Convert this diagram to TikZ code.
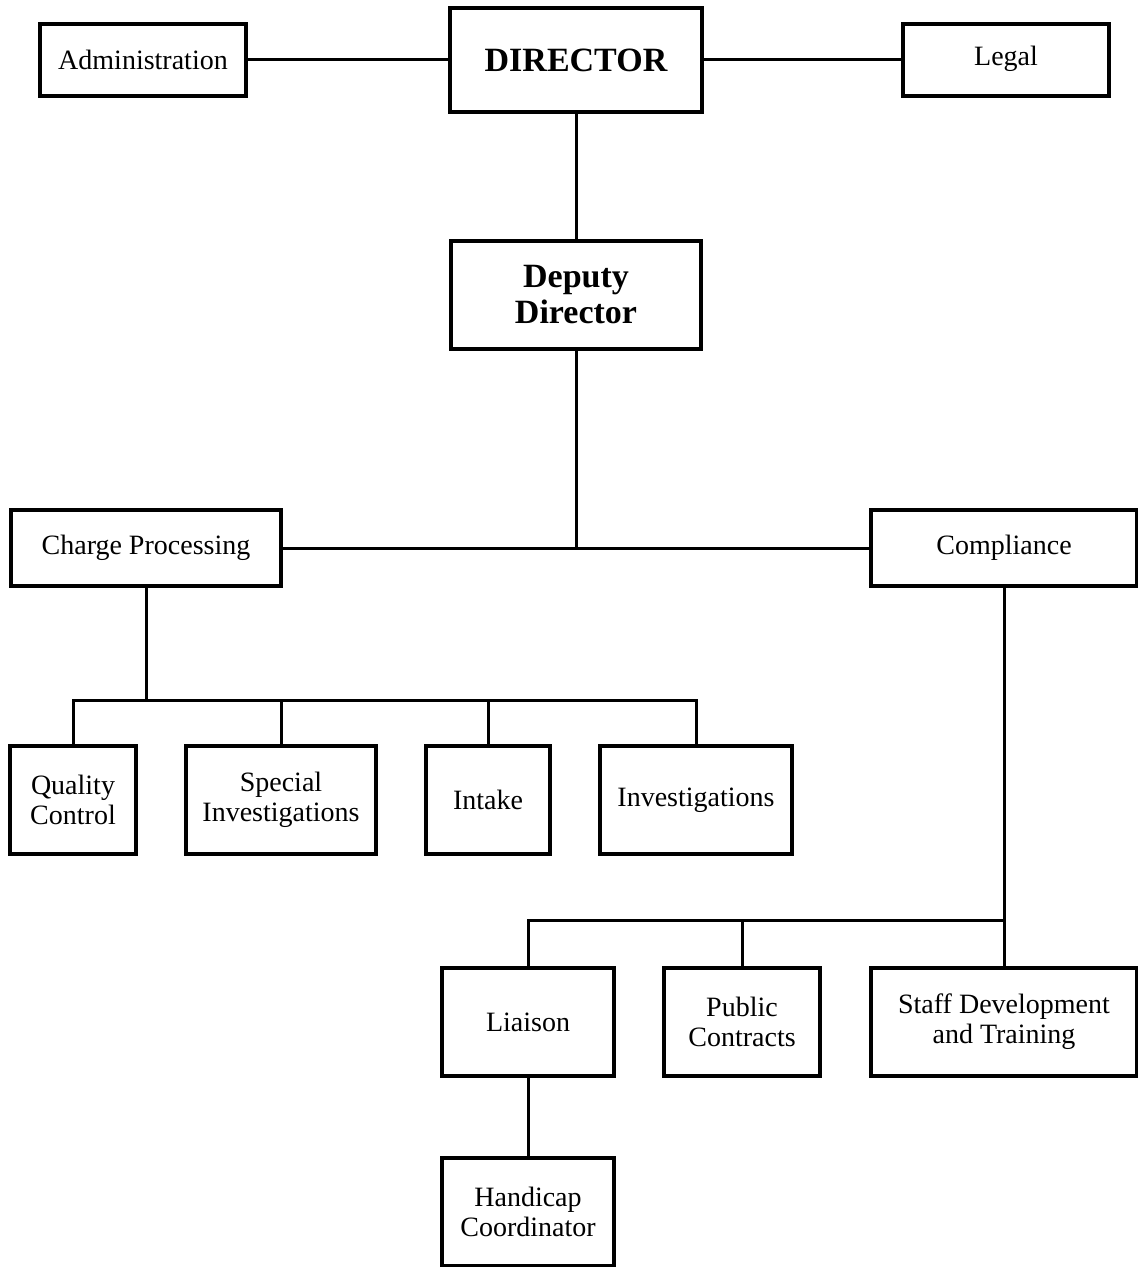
\documentclass[tikz,border=0pt]{standalone}
\usepackage{fontspec}
\setmainfont{Liberation Serif}
\usepackage{xcolor}
\usepackage{tikz}
\usetikzlibrary{positioning}

\begin{document}
\begin{tikzpicture}[x=0.5pt,y=-0.5pt]
                \tikzset{Unit/.style={%
                    shape=rectangle,%
                    draw=black,%
                    line width=2pt,%
                    align=center,%
                    inner sep=2pt,%
                    font=\fontsize{14}{15}\selectfont,%
                },
                Head/.style={%
                    Unit,%
                    font=\bfseries\fontsize{17}{18}\selectfont,%
                },
                Link/.style={%
                    line width=1.5pt,%
                    draw=black,%
                }}

                \useasboundingbox (0,0) rectangle (1138,1267);

                \node[Head, minimum width=126pt, minimum height=52pt] (dir) at (576,60) {DIRECTOR};
                \node[Unit, minimum width=103pt, minimum height=36pt] (adm) at (143,60) {Administration};
                \node[Unit, minimum width=103pt, minimum height=36pt] (leg) at (1006,60) {Legal\strut};
                \node[Head, minimum width=125pt, minimum height=54pt] (dep) at (576,295) {Deputy\\Director};

                \node[Unit, minimum width=135pt, minimum height=38pt] (chp) at (146,548) {Charge Processing};
                \node[Unit, minimum width=133pt, minimum height=38pt] (cmp) at (1004,548) {Compliance};

                \node[Unit, minimum width=63pt, minimum height=54pt] (qc) at (73,800) {Quality\\Control};
                \node[Unit, minimum width=95pt, minimum height=54pt] (spi) at (281,800) {Special\\Investigations};
                \node[Unit, minimum width=62pt, minimum height=54pt] (itk) at (488,800) {Intake};
                \node[Unit, minimum width=96pt, minimum height=54pt] (inv) at (696,800) {Investigations};

                \node[Unit, minimum width=86pt, minimum height=54pt] (lia) at (528,1022) {Liaison};
                \node[Unit, minimum width=78pt, minimum height=54pt] (puc) at (742,1022) {Public\\Contracts};
                \node[Unit, minimum width=133pt, minimum height=54pt] (sdt) at (1004,1022) {Staff Development\\and Training};
                \node[Unit, minimum width=86pt, minimum height=54pt] (hcc) at (528,1212) {Handicap\\Coordinator};

                \coordinate (jdep) at (576,548);
                \coordinate (jchp) at (146,700);
                \coordinate (jcmp) at (1004,920);

                \path[Link] (adm) edge (dir);
                \path[Link] (dir) edge (leg);
                \path[Link] (dir) edge (dep);
                \path[Link] (dep) edge (jdep);
                \path[Link] (chp) edge (cmp);

                \path[Link] (chp) edge (jchp);
                \draw[Link] (qc.north) |- (jchp);
                \draw[Link] (spi.north) |- (jchp);
                \draw[Link] (itk.north) |- (jchp);
                \draw[Link] (inv.north) |- (jchp);

                \path[Link] (cmp) edge (sdt);
                \draw[Link] (lia.north) |- (jcmp);
                \draw[Link] (puc.north) |- (jcmp);
                \path[Link] (lia) edge (hcc);
            \end{tikzpicture}
\end{document}
